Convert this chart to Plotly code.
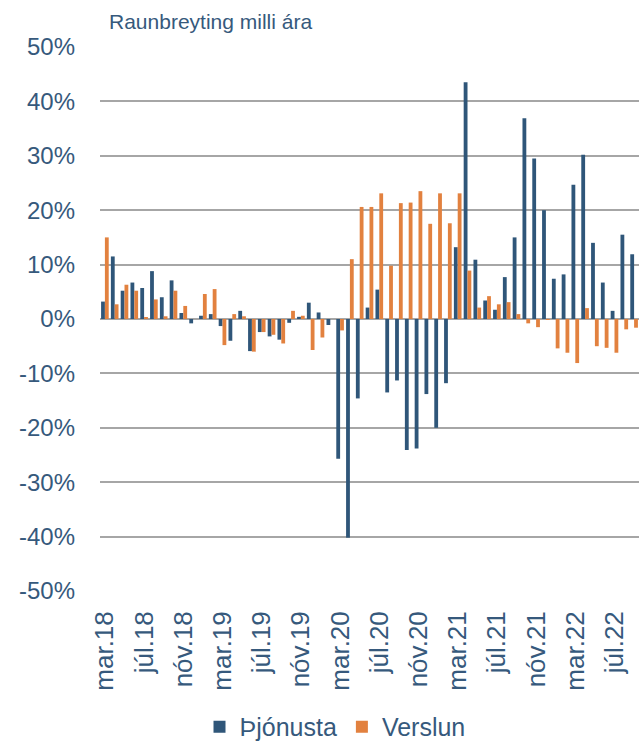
import plotly.graph_objects as go

months = [
    "mar.18", "apr.18", "maí.18", "jún.18", "júl.18", "ágú.18", "sep.18", "okt.18", "nóv.18", "des.18",
    "jan.19", "feb.19", "mar.19", "apr.19", "maí.19", "jún.19", "júl.19", "ágú.19", "sep.19", "okt.19",
    "nóv.19", "des.19", "jan.20", "feb.20", "mar.20", "apr.20", "maí.20", "jún.20", "júl.20", "ágú.20",
    "sep.20", "okt.20", "nóv.20", "des.20", "jan.21", "feb.21", "mar.21", "apr.21", "maí.21", "jún.21",
    "júl.21", "ágú.21", "sep.21", "okt.21", "nóv.21", "des.21", "jan.22", "feb.22", "mar.22", "apr.22",
    "maí.22", "jún.22", "júl.22", "ágú.22", "sep.22",
]

tick_labels = ["mar.18", "júl.18", "nóv.18", "mar.19", "júl.19", "nóv.19", "mar.20",
               "júl.20", "nóv.20", "mar.21", "júl.21", "nóv.21", "mar.22", "júl.22"]

thjonusta = [
    3.2, 11.5, 5.2, 6.7, 5.7, 8.8, 4.0, 7.1, 1.1, -0.8,
    0.6, 0.9, -1.3, -4.0, 1.5, -5.9, -2.4, -3.2, -3.8, -0.7,
    0.4, 3.0, 1.2, -1.1, -25.7, -40.2, -14.6, 2.1, 5.4, -13.5,
    -11.3, -24.1, -23.8, -13.8, -20.0, -11.8, 13.2, 43.5, 10.9, 3.4,
    1.7, 7.7, 15.0, 36.9, 29.5, 20.0, 7.4, 8.2, 24.7, 30.2,
    14.0, 6.7, 1.5, 15.5, 11.9,
]

verslun = [
    15.0, 2.7, 6.3, 5.2, 0.2, 3.6, 0.5, 5.2, 2.4, 0.0,
    4.6, 5.5, -4.8, 0.9, 0.5, -6.0, -2.4, -2.9, -4.5, 1.5,
    0.6, -5.7, -3.4, 0.0, -2.1, 11.0, 20.6, 20.6, 23.1, 9.8,
    21.3, 21.4, 23.5, 17.5, 23.1, 17.6, 23.1, 8.9, 2.1, 4.2,
    2.7, 3.1, 0.9, -0.8, -1.5, -0.1, -5.4, -6.2, -8.1, 2.0,
    -5.0, -5.3, -6.2, -1.9, -1.6,
]

y_ticks = [-50, -40, -30, -20, -10, 0, 10, 20, 30, 40, 50]

BLUE = "#2F5679"
ORANGE = "#E2813F"
TEXT = "#36597C"
GRID = "#A6A6A6"
FONT = "Liberation Sans, Arial, sans-serif"

fig = go.Figure()
fig.add_trace(go.Bar(x=months, y=thjonusta, name="Þjónusta", marker=dict(color=BLUE, line=dict(width=0))))
fig.add_trace(go.Bar(x=months, y=verslun, name="Verslun", marker=dict(color=ORANGE, line=dict(width=0))))

fig.update_layout(
    width=639, height=741,
    margin=dict(l=100, r=0, t=47, b=150, autoexpand=False),
    paper_bgcolor="white", plot_bgcolor="white",
    barmode="group", bargap=0.22, bargroupgap=0,
    font=dict(family=FONT, color=TEXT),
    showlegend=True,
    legend=dict(orientation="h", x=0.436, xanchor="center",
                yref="container", y=0.019, yanchor="middle",
                font=dict(size=25, color=TEXT), tracegroupgap=0),
    annotations=[dict(text="Raunbreyting milli ára", xref="paper", yref="paper",
                      x=0.013, y=1.0, xanchor="left", yanchor="bottom", yshift=12,
                      showarrow=False, font=dict(size=21, color=TEXT))],
)

fig.update_xaxes(
    type="category", categoryorder="array", categoryarray=months,
    tickmode="array", tickvals=tick_labels, ticktext=tick_labels,
    tickangle=-90, tickfont=dict(size=26, color=TEXT),
    showgrid=False, showline=False, ticks="", ticklabelstandoff=14,
    range=[-0.5, len(months) - 0.5], automargin=False,
)
fig.update_yaxes(
    range=[-50, 50], tickmode="array", tickvals=y_ticks,
    ticktext=[f"{v}%" for v in y_ticks],
    tickfont=dict(size=24, color=TEXT),
    showgrid=True, gridcolor=GRID, gridwidth=1.5,
    zeroline=True, zerolinecolor=GRID, zerolinewidth=1.5,
    showline=False, ticks="", ticklabelstandoff=24, automargin=False,
)

fig.write_html("out.html", config={"displayModeBar": False},
               post_script="document.body.style.margin='0';")
